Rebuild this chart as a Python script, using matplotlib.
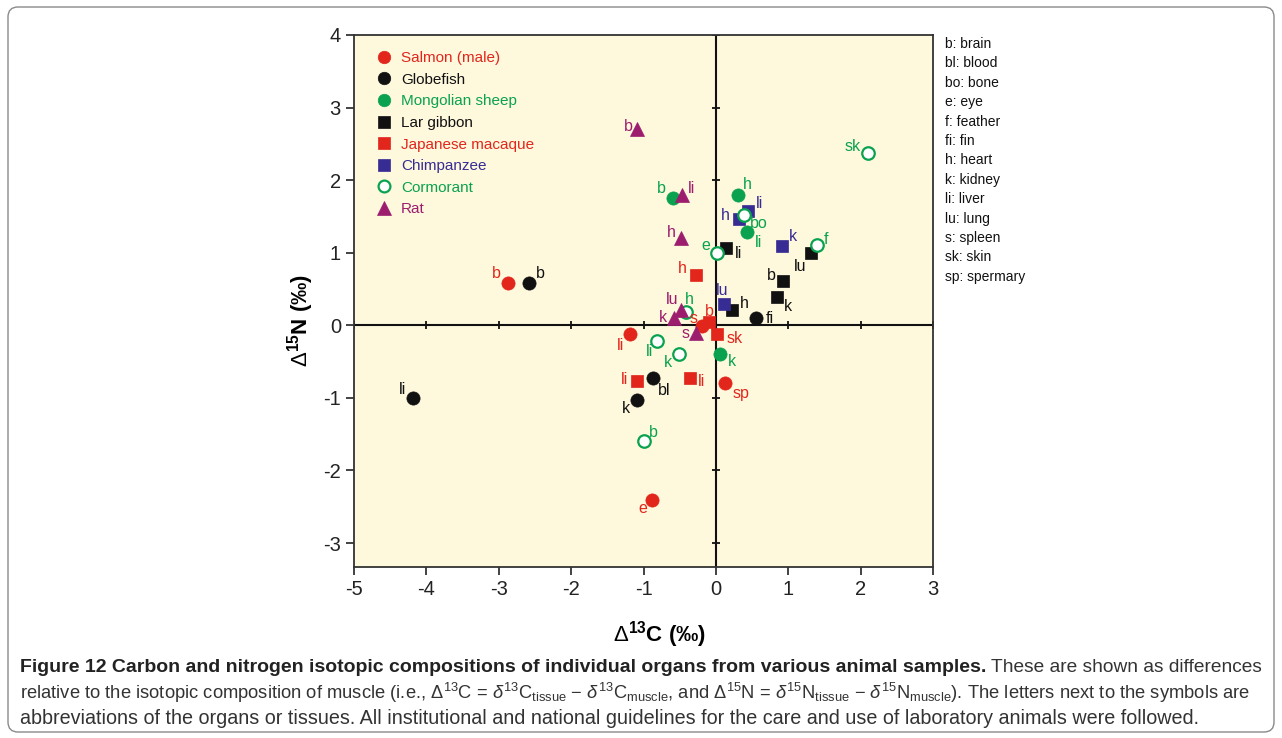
import matplotlib
matplotlib.use('Agg')
import matplotlib.pyplot as plt
from matplotlib.lines import Line2D
from matplotlib.patches import FancyBboxPatch
from matplotlib.transforms import IdentityTransform

plt.rcParams['font.family'] = ['Liberation Sans', 'DejaVu Sans']
plt.rcParams['mathtext.fontset'] = 'custom'
plt.rcParams['mathtext.rm'] = 'Liberation Sans'
plt.rcParams['mathtext.it'] = 'Liberation Sans:italic'
plt.rcParams['mathtext.bf'] = 'Liberation Sans:bold'
plt.rcParams['axes.unicode_minus'] = False

# delta13C / delta15N of each organ minus muscle
salmon_organs = ['b', 'li', 's', 'sp', 'e']
salmon_dC = [-2.88, -1.19, -0.19, 0.12, -0.88]
salmon_dN = [0.58, -0.12, -0.01, -0.80, -2.41]

globe_organs = ['b', 'li', 'bl', 'k', 'fi']
globe_dC = [-2.58, -4.19, -0.87, -1.09, 0.55]
globe_dN = [0.58, -1.00, -0.72, -1.03, 0.10]

sheep_organs = ['b', 'h', 'li', 'k']
sheep_dC = [-0.59, 0.30, 0.43, 0.06]
sheep_dN = [1.76, 1.80, 1.28, -0.39]

gibbon_organs = ['li', 'lu', 'b', 'k', 'h']
gibbon_dC = [0.14, 1.31, 0.93, 0.84, 0.22]
gibbon_dN = [1.07, 0.99, 0.61, 0.39, 0.21]

macaque_organs = ['h', 'b', 'sk', 'li', 'li']
macaque_dC = [-0.28, -0.10, 0.01, -1.09, -0.36]
macaque_dN = [0.70, 0.04, -0.12, -0.77, -0.72]

chimp_organs = ['li', 'h', 'k', 'lu']
chimp_dC = [0.44, 0.32, 0.91, 0.11]
chimp_dN = [1.58, 1.47, 1.09, 0.29]

cormorant_organs = ['sk', 'bo', 'f', 'e', 'h', 'li', 'k', 'b']
cormorant_dC = [2.10, 0.39, 1.40, 0.01, -0.41, -0.81, -0.51, -0.99]
cormorant_dN = [2.38, 1.52, 1.10, 0.99, 0.19, -0.21, -0.39, -1.60]

rat_organs = ['b', 'li', 'h', 'lu', 'k', 's']
rat_dC = [-1.09, -0.47, -0.48, -0.48, -0.58, -0.28]
rat_dN = [2.70, 1.80, 1.20, 0.21, 0.10, -0.10]

x_ticks = [-5, -4, -3, -2, -1, 0, 1, 2, 3]
y_ticks = [-3, -2, -1, 0, 1, 2, 3, 4]

abbreviations = ['b: brain', 'bl: blood', 'bo: bone', 'e: eye', 'f: feather',
                 'fi: fin', 'h: heart', 'k: kidney', 'li: liver', 'lu: lung',
                 's: spleen', 'sk: skin', 'sp: spermary']

# colours
red = '#e2261c'
black = '#111111'
green = '#0aa24f'
blue = '#372c94'
purple = '#9c1d6e'

# where each organ letter sits relative to its symbol (pixels, right / up)
salmon_off = [(-11, 10), (-9, -11), (-9, 8), (16, -10), (-9, -8)]
globe_off = [(11, 10), (-10, 8), (11, -13), (-11, -8), (14, 0)]
sheep_off = [(-12, 9), (10, 10), (11, -10), (12, -8)]
gibbon_off = [(12, -6), (-11, -13), (-12, 6), (11, -9), (12, 7)]
macaque_off = [(-13, 6), (1, 11), (18, -4), (-13, 2), (12, -4)]
chimp_off = [(12, 7), (-14, 3), (11, 10), (-2, 14)]
cormorant_off = [(-15, 6), (15, -9), (9, 6), (-11, 8), (3, 12), (-8, -11), (-11, -9), (9, 9)]
rat_off = [(-9, 3), (10, 6), (-10, 6), (-9, 11), (-11, 1), (-10, -1)]

species = [
    ('Salmon (male)', salmon_dC, salmon_dN, salmon_organs, salmon_off, 'o', red, red, 9.5),
    ('Globefish', globe_dC, globe_dN, globe_organs, globe_off, 'o', black, black, 9.5),
    ('Mongolian sheep', sheep_dC, sheep_dN, sheep_organs, sheep_off, 'o', green, green, 9.5),
    ('Lar gibbon', gibbon_dC, gibbon_dN, gibbon_organs, gibbon_off, 's', black, black, 8.5),
    ('Japanese macaque', macaque_dC, macaque_dN, macaque_organs, macaque_off, 's', red, red, 8.5),
    ('Chimpanzee', chimp_dC, chimp_dN, chimp_organs, chimp_off, 's', blue, blue, 8.5),
    ('Cormorant', cormorant_dC, cormorant_dN, cormorant_organs, cormorant_off, 'o', green, 'white', 9),
    ('Rat', rat_dC, rat_dN, rat_organs, rat_off, '^', purple, purple, 10),
]

fig = plt.figure(figsize=(12.82, 7.38), dpi=100)
ax = fig.add_axes([0.2762, 0.2317, 0.4516, 0.7209])
ax.set_facecolor('#fef8dd')
ax.set_xlim(-5, 3)
ax.set_ylim(-3.33, 4)

# cross lines through the origin, with their own small tick marks
ax.axhline(0, color=black, lw=1.5, zorder=1)
ax.axvline(0, color=black, lw=1.5, zorder=1)
ax.plot(x_ticks, [0] * len(x_ticks), ls='none', marker='|', ms=5.5, mew=1.3, color=black, zorder=1)
ax.plot([0] * len(y_ticks), y_ticks, ls='none', marker='_', ms=5.5, mew=1.3, color=black, zorder=1)

handles = []
for name, xs, ys, organs, offs, mk, col, face, ms in species:
    ax.plot(xs, ys, ls='none', marker=mk, ms=ms, mfc=face, mec=col,
            mew=1.6 if face == 'white' else 0.5, zorder=3)
    for x, y, org, (dx, dy) in zip(xs, ys, organs, offs):
        ax.annotate(org, (x, y), xytext=(dx, dy), textcoords='offset pixels',
                    ha='center', va='center', fontsize=11.5, color=col, zorder=4)
    handles.append(Line2D([], [], ls='none', marker=mk, ms=ms - 0.5, mfc=face, mec=col,
                          mew=1.6 if face == 'white' else 0.5, label=name))

leg = ax.legend(handles=handles, loc='upper left', bbox_to_anchor=(0.02, 0.99),
                frameon=False, fontsize=11, handlelength=1.0, handletextpad=0.6,
                labelspacing=0.5, borderaxespad=0.3)
for txt, h in zip(leg.get_texts(), species):
    txt.set_color(h[6])

ax.set_xticks(x_ticks)
ax.set_yticks(y_ticks)
ax.tick_params(direction='out', length=6, width=1.2, labelsize=14.5, colors='#222222')
for sp in ax.spines.values():
    sp.set_color('#333333')
    sp.set_linewidth(1.3)

ax.set_xlabel(r'$\Delta^{\mathbf{13}}$C (‰)', fontsize=16, fontweight='bold')
ax.set_ylabel(r'$\Delta^{\mathbf{15}}$N (‰)', fontsize=16, fontweight='bold')
ax.xaxis.set_label_coords(0.528, -0.097)
ax.yaxis.set_label_coords(-0.093, 0.464)
ax.yaxis.label.set_va('center')

# key to the organ abbreviations
for i, s in enumerate(abbreviations):
    fig.text(945 / 1282, 1 - (44 + i * 19.4) / 738, s, fontsize=10,
             color=black, va='center', ha='left')

# caption
cap_font = ['Liberation Sans', 'DejaVu Sans']
fig.canvas.draw()
r = fig.canvas.get_renderer()
bold = fig.text(20 / 1282, 1 - 668 / 738,
                'Figure 12 Carbon and nitrogen isotopic compositions of individual organs from various animal samples.',
                family=cap_font, fontsize=14, fontweight='bold', va='center', color='#222222')
bb = bold.get_window_extent(r)
fig.text((bb.x1 + 5) / 1282, 1 - 668 / 738, 'These are shown as differences',
         family=cap_font, fontsize=13.8, va='center', color='#333333')
fig.text(20 / 1282, 1 - 693 / 738,
         r'relative to the isotopic composition of muscle (i.e., $\mathit{\Delta}^{13}$C = $\mathit{\delta}^{13}$C$_{\mathrm{tissue}}$ $-$ $\mathit{\delta}^{13}$C$_{\mathrm{muscle}}$, and $\mathit{\Delta}^{15}$N = $\mathit{\delta}^{15}$N$_{\mathrm{tissue}}$ $-$ $\mathit{\delta}^{15}$N$_{\mathrm{muscle}}$). The letters next to the symbols are',
         family=cap_font, fontsize=13.2, va='center', color='#333333')
fig.text(20 / 1282, 1 - 718 / 738,
         'abbreviations of the organs or tissues. All institutional and national guidelines for the care and use of laboratory animals were followed.',
         family=cap_font, fontsize=14.2, va='center', color='#333333')

frame = FancyBboxPatch((8, 6), 1266, 725, boxstyle='round,pad=0,rounding_size=10',
                       transform=IdentityTransform(), fill=False, ec='#8a8a8a', lw=1.0)
fig.add_artist(frame)

fig.savefig('out.png', dpi=100)
